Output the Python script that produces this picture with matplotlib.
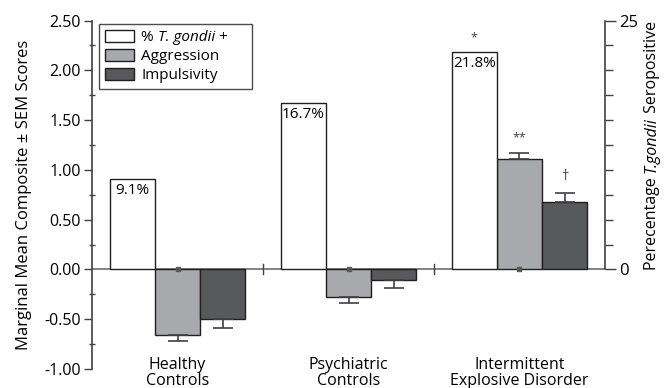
import matplotlib
matplotlib.use("Agg")
import matplotlib.pyplot as plt
from matplotlib.patches import Patch
from matplotlib.ticker import FixedLocator, MultipleLocator, FormatStrFormatter
import numpy as np

plt.rcParams["font.family"] = ["Open Sans", "DejaVu Sans"]

# Data
groups = ["Healthy\nControls", "Psychiatric\nControls", "Intermittent\nExplosive Disorder"]
pct_gondii = [9.1, 16.7, 21.8]
pct_labels = ["9.1%", "16.7%", "21.8%"]
aggression = [-0.66, -0.28, 1.11]
aggression_sem = [0.06, 0.06, 0.06]
impulsivity = [-0.50, -0.11, 0.68]
impulsivity_sem = [0.09, 0.08, 0.09]
pct_sig = ["", "", "*"]
aggression_sig = ["", "", "**"]
impulsivity_sig = ["", "", "\u2020"]

WHITE = "#ffffff"
GRAY = "#a7a9ac"
DARK = "#58595b"
EDGE = "#231f20"
LINE = "#414042"

fig = plt.figure(figsize=(6.67, 3.88), dpi=100)
ax = fig.add_axes([0.138, 0.049, 0.769, 0.898])
ax2 = ax.twinx()

x = np.arange(len(groups))
w = 0.265

# Composite scores on the left axis
ax.bar(x, aggression, w, color=GRAY, edgecolor=EDGE, linewidth=1.0, zorder=2)
ax.bar(x + w, impulsivity, w, color=DARK, edgecolor=EDGE, linewidth=1.0, zorder=2)


def one_sided(vals, sems):
    lo = [s if v < 0 else 0 for v, s in zip(vals, sems)]
    hi = [s if v >= 0 else 0 for v, s in zip(vals, sems)]
    return [lo, hi]


ax.errorbar(x, aggression, yerr=one_sided(aggression, aggression_sem), fmt="none",
            ecolor=LINE, elinewidth=1.2, capsize=7, capthick=1.2, zorder=3)
ax.errorbar(x + w, impulsivity, yerr=one_sided(impulsivity, impulsivity_sem), fmt="none",
            ecolor=LINE, elinewidth=1.2, capsize=7, capthick=1.2, zorder=3)
ax.plot(x, np.zeros(len(x)), ls="none", marker="s", ms=2.2, color=DARK, zorder=4)

# Zero line with group separators
ax.axhline(0, color="#6d6e71", lw=1.2, zorder=1)
for b in [0.5, 1.5]:
    ax.plot([b, b], [-0.05, 0.05], color=LINE, lw=1.0, zorder=1)

for xi, v, s, sig in zip(x, aggression, aggression_sem, aggression_sig):
    if sig:
        ax.text(xi, v + s + 0.15, sig, ha="center", va="center", fontsize=9, color="#414042")
for xi, v, s, sig in zip(x + w, impulsivity, impulsivity_sem, impulsivity_sig):
    if sig:
        ax.text(xi, v + s + 0.16, sig, ha="center", va="center", fontsize=10.5, color="#414042")

ax.set_xlim(-0.5, 2.5)
ax.set_ylim(-1.0, 2.5)
ax.yaxis.set_major_locator(MultipleLocator(0.5))
ax.yaxis.set_minor_locator(MultipleLocator(0.25))
ax.yaxis.set_major_formatter(FormatStrFormatter("%.2f"))
ax.tick_params(axis="y", which="major", direction="out", length=6, width=1.0,
               color=LINE, labelsize=11.5, pad=2)
ax.tick_params(axis="y", which="minor", direction="inout", length=5, width=1.0, color=LINE)
ax.set_xticks([])
for s in ["top", "right", "bottom"]:
    ax.spines[s].set_visible(False)
ax.spines["left"].set_bounds(-1.0, 2.5)
ax.spines["left"].set_color(LINE)
ax.spines["left"].set_linewidth(1.2)
ax.set_ylabel("Marginal Mean Composite \u00b1 SEM Scores", fontsize=12)
ax.yaxis.set_label_coords(-0.118, 0.5)

for xi, g in zip(x, groups):
    ax.text(xi, -0.88, g, ha="center", va="top", fontsize=11.5, linespacing=1.0)

# Seropositive percentage on the right axis
ax2.bar(x - w, pct_gondii, w, color=WHITE, edgecolor=EDGE, linewidth=1.0, zorder=2)
for xi, v, lab, sig in zip(x - w, pct_gondii, pct_labels, pct_sig):
    ax2.text(xi, v - 0.4, lab, ha="center", va="top", fontsize=11)
    if sig:
        ax2.text(xi, v + 1.5, sig, ha="center", va="center", fontsize=9, color="#414042")

ax2.set_ylim(-10, 25)
ax2.yaxis.set_major_locator(FixedLocator([0, 25]))
ax2.yaxis.set_minor_locator(FixedLocator(np.arange(2.5, 25, 2.5)))
ax2.tick_params(axis="y", which="major", direction="out", length=8, width=1.0,
                color=LINE, labelsize=12, pad=2)
ax2.tick_params(axis="y", which="minor", direction="out", length=6, width=1.0, color=LINE)
for s in ["top", "left", "bottom"]:
    ax2.spines[s].set_visible(False)
ax2.spines["right"].set_bounds(0, 25)
ax2.spines["right"].set_color(LINE)
ax2.spines["right"].set_linewidth(1.2)

renderer = fig.canvas.get_renderer()

# Right axis title, set piece by piece so the species name can be italic
title_parts = [("Perecentage ", "normal"), ("T.gondii", "italic"), (" Seropositive", "normal")]
base_x = 0.9835
cur_y = (388 - 270) / 388
for txt, style in title_parts:
    t = fig.text(base_x, cur_y, txt, rotation=90, rotation_mode="anchor",
                 ha="left", va="baseline", fontsize=11.5, fontstyle=style)
    bb = t.get_window_extent(renderer)
    cur_y += bb.height / fig.bbox.height

# Legend
handles = [
    Patch(facecolor=WHITE, edgecolor=EDGE, linewidth=1.0),
    Patch(facecolor=GRAY, edgecolor=EDGE, linewidth=1.0),
    Patch(facecolor=DARK, edgecolor=EDGE, linewidth=1.0),
]
labels = ["% T. gondii +", "Aggression", "Impulsivity"]
leg_fs = 11
leg = ax2.legend(handles, labels, loc="upper left",
                 bbox_to_anchor=(0.0136, 0.99 - 0.20, 0.298, 0.20), mode="expand",
                 fontsize=leg_fs, frameon=True, fancybox=False, handlelength=1.9,
                 handleheight=0.8, handletextpad=0.45, labelspacing=0.25,
                 borderpad=0.4, borderaxespad=0)
leg.get_frame().set_edgecolor(EDGE)
leg.get_frame().set_linewidth(1.0)

# First legend entry: rewrite with the species name in italics
fig.canvas.draw()
first = leg.get_texts()[0]
fbb = first.get_window_extent(renderer)
_, _, descent = renderer.get_text_width_height_descent(
    first.get_text(), first.get_fontproperties(), ismath=False)
first.set_alpha(0)
inv = fig.transFigure.inverted()
px, py = fbb.x0, fbb.y0 + descent
for txt, style in [("% ", "normal"), ("T. gondii", "italic"), (" +", "normal")]:
    fx, fy = inv.transform((px, py))
    t = fig.text(fx, fy, txt, ha="left", va="baseline", fontsize=leg_fs,
                 fontstyle=style, zorder=10)
    px += t.get_window_extent(renderer).width

fig.savefig("out.png", dpi=100)
